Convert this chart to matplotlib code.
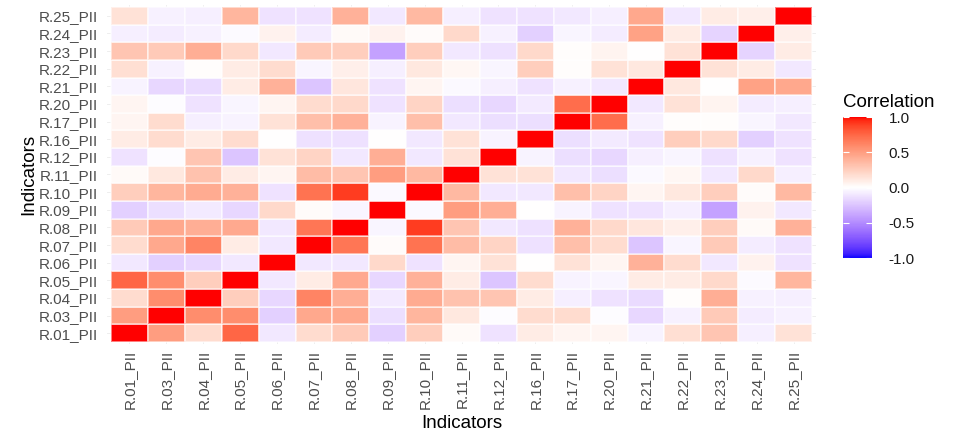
import numpy as np
import matplotlib
matplotlib.use("Agg")
import matplotlib.pyplot as plt
from matplotlib.colors import ListedColormap

plt.rcParams['font.family'] = ['Liberation Sans', 'DejaVu Sans']

# indicator names (bottom-to-top on y, left-to-right on x)
labels = ["R.01_PII", "R.03_PII", "R.04_PII", "R.05_PII", "R.06_PII", "R.07_PII",
          "R.08_PII", "R.09_PII", "R.10_PII", "R.11_PII", "R.12_PII", "R.16_PII",
          "R.17_PII", "R.20_PII", "R.21_PII", "R.22_PII", "R.23_PII", "R.24_PII",
          "R.25_PII"]

# correlation matrix
corr = [
    [1.00, 0.50, 0.18, 0.75, -0.10, 0.18, 0.28, -0.20, 0.25, 0.03, -0.12, 0.10, 0.05, 0.05, -0.05, 0.17, 0.30, -0.07, 0.15],
    [0.50, 1.00, 0.58, 0.58, -0.20, 0.45, 0.45, -0.14, 0.38, 0.12, -0.01, 0.18, 0.18, -0.01, -0.17, -0.06, 0.28, -0.08, -0.06],
    [0.18, 0.58, 1.00, 0.25, -0.17, 0.62, 0.42, -0.09, 0.43, 0.32, 0.30, 0.10, -0.07, -0.12, -0.15, 0.01, 0.42, -0.06, -0.07],
    [0.75, 0.58, 0.25, 1.00, -0.10, 0.10, 0.44, -0.17, 0.40, 0.10, -0.25, 0.18, -0.05, -0.04, 0.10, 0.10, 0.20, -0.02, 0.38],
    [-0.10, -0.20, -0.17, -0.10, 1.00, -0.10, -0.10, 0.20, -0.12, 0.05, 0.15, 0.00, 0.15, 0.05, 0.40, 0.18, -0.10, 0.07, -0.12],
    [0.18, 0.45, 0.62, 0.10, -0.10, 1.00, 0.68, 0.02, 0.70, 0.35, 0.22, -0.13, 0.33, 0.18, -0.25, -0.04, 0.28, -0.08, -0.12],
    [0.28, 0.45, 0.42, 0.44, -0.10, 0.68, 1.00, -0.04, 0.90, 0.30, -0.10, -0.13, 0.40, 0.20, 0.13, 0.08, 0.25, 0.03, 0.40],
    [-0.20, -0.14, -0.09, -0.17, 0.20, 0.02, -0.04, 1.00, -0.03, 0.50, 0.42, 0.00, -0.05, -0.12, -0.12, -0.07, -0.40, 0.07, -0.10],
    [0.25, 0.38, 0.43, 0.40, -0.12, 0.70, 0.90, -0.03, 1.00, 0.36, -0.10, -0.10, 0.33, 0.22, 0.05, 0.12, 0.25, 0.02, 0.36],
    [0.03, 0.12, 0.32, 0.10, 0.05, 0.35, 0.30, 0.50, 0.36, 1.00, 0.15, 0.15, -0.10, -0.14, -0.03, 0.04, -0.10, 0.20, -0.07],
    [-0.12, -0.01, 0.30, -0.25, 0.15, 0.22, -0.10, 0.42, -0.10, 0.15, 1.00, -0.05, -0.14, -0.17, -0.07, -0.04, -0.13, -0.06, -0.12],
    [0.10, 0.18, 0.10, 0.18, 0.00, -0.13, -0.13, 0.00, -0.10, 0.15, -0.05, 1.00, -0.14, -0.09, -0.12, 0.25, 0.20, -0.20, -0.12],
    [0.05, 0.18, -0.07, -0.05, 0.15, 0.33, 0.40, -0.05, 0.33, -0.10, -0.14, -0.14, 1.00, 0.72, -0.06, 0.01, 0.01, -0.04, -0.10],
    [0.05, -0.01, -0.12, -0.04, 0.05, 0.18, 0.20, -0.12, 0.22, -0.14, -0.17, -0.09, 0.72, 1.00, -0.10, 0.15, 0.06, -0.08, -0.07],
    [-0.05, -0.17, -0.15, 0.10, 0.40, -0.25, 0.13, -0.12, 0.05, -0.03, -0.07, -0.12, -0.06, -0.10, 1.00, 0.12, 0.00, 0.48, 0.45],
    [0.17, -0.06, 0.01, 0.10, 0.18, -0.04, 0.08, -0.07, 0.12, 0.04, -0.04, 0.25, 0.01, 0.15, 0.12, 1.00, 0.15, 0.10, -0.10],
    [0.30, 0.28, 0.42, 0.20, -0.10, 0.28, 0.25, -0.40, 0.25, -0.10, -0.13, 0.20, 0.01, 0.06, 0.00, 0.15, 1.00, -0.18, 0.10],
    [-0.07, -0.08, -0.06, -0.02, 0.07, -0.08, 0.03, 0.07, 0.02, 0.20, -0.06, -0.20, -0.04, -0.08, 0.48, 0.10, -0.18, 1.00, 0.08],
    [0.15, -0.06, -0.07, 0.38, -0.12, -0.12, 0.40, -0.10, 0.36, -0.07, -0.12, -0.12, -0.10, -0.07, 0.45, -0.10, 0.10, 0.08, 1.00],
]
cbar_ticks = [-1.0, -0.5, 0.0, 0.5, 1.0]


# blue-white-red gradient interpolated in Lab space (like ggplot's gradient2)
def to_lab(rgb):
    c = np.asarray(rgb, float)
    c = np.where(c > 0.04045, ((c + 0.055) / 1.055) ** 2.4, c / 12.92)
    M = np.array([[0.4124, 0.3576, 0.1805], [0.2126, 0.7152, 0.0722], [0.0193, 0.1192, 0.9505]])
    xyz = M @ c / np.array([0.95047, 1.0, 1.08883])
    f = np.where(xyz > 0.008856, np.cbrt(xyz), 7.787 * xyz + 16 / 116)
    return np.array([116 * f[1] - 16, 500 * (f[0] - f[1]), 200 * (f[1] - f[2])])


def from_lab(lab):
    L, a, b = lab
    fy = (L + 16) / 116
    fx = fy + a / 500
    fz = fy - b / 200
    f = np.array([fx, fy, fz])
    xyz = np.where(f ** 3 > 0.008856, f ** 3, (f - 16 / 116) / 7.787) * np.array([0.95047, 1.0, 1.08883])
    Minv = np.array([[3.2406, -1.5372, -0.4986], [-0.9689, 1.8758, 0.0415], [0.0557, -0.2040, 1.0570]])
    c = Minv @ xyz
    c = np.where(c > 0.0031308, 1.055 * np.clip(c, 0, None) ** (1 / 2.4) - 0.055, 12.92 * c)
    return np.clip(c, 0, 1)


blue, white, red = to_lab([0, 0, 1]), to_lab([1, 1, 1]), to_lab([1, 0, 0])
cols = []
for t in np.linspace(-1, 1, 256):
    if t < 0:
        cols.append(from_lab(white + (-t) * (blue - white)))
    else:
        cols.append(from_lab(white + t * (red - white)))
cmap = ListedColormap(cols)

fig = plt.figure(figsize=(9.55, 4.33), dpi=100)
ax = fig.add_axes([0.1124, 0.206, 0.7418, 0.782])
n = len(labels)
ax.set_axisbelow(True)
ax.grid(True, color="#ebebeb", linewidth=0.6)
mesh = ax.pcolormesh(np.arange(n + 1) - 0.5, np.arange(n + 1) - 0.5, np.array(corr),
                     cmap=cmap, vmin=-1, vmax=1, edgecolor=(1, 1, 1, 0.5), linewidth=0.15, zorder=2)
ax.set_xlim(-0.6, n - 0.4)
ax.set_ylim(-0.6, n - 0.4)
ax.set_xticks(range(n))
ax.set_yticks(range(n))
ax.set_xticklabels(labels, rotation=90, fontsize=11, color="#4d4d4d")
ax.set_yticklabels(labels, fontsize=11, color="#4d4d4d")
ax.tick_params(axis="x", length=0, pad=4.5)
ax.tick_params(axis="y", length=0, pad=7)
for s in ax.spines.values():
    s.set_visible(False)
ax.set_xlabel("Indicators", fontsize=13.5, labelpad=4)
ax.set_ylabel("Indicators", fontsize=13.5, labelpad=1)

cax = fig.add_axes([0.8827, 0.404, 0.0304, 0.3256])
cb = fig.colorbar(mesh, cax=cax, ticks=cbar_ticks)
cb.outline.set_visible(False)
cax.tick_params(length=0, pad=12, labelsize=11, labelcolor="#1a1a1a")
cax.set_yticklabels([f"{v:.1f}" for v in cbar_ticks])
cax.hlines(cbar_ticks, 0, 0.2, transform=cax.get_yaxis_transform(), colors="white", linewidth=0.8)
cax.hlines(cbar_ticks, 0.8, 1, transform=cax.get_yaxis_transform(), colors="white", linewidth=0.8)
fig.text(0.8827, 0.764, "Correlation", fontsize=13.5, ha="left", va="center")

fig.savefig("out.png", dpi=100)
